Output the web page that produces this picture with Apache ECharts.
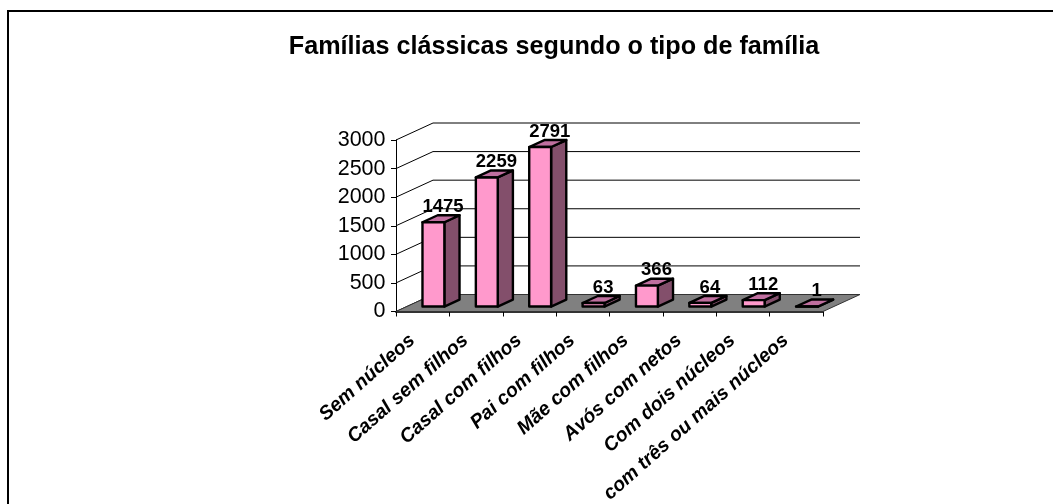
<!DOCTYPE html>
<html>
<head>
<meta charset="utf-8">
<style>
html,body{margin:0;padding:0;background:#fff;}
#chart{width:1053px;height:504px;}
</style>
<script src="https://cdn.jsdelivr.net/npm/echarts@6/dist/echarts.min.js"></script>
</head>
<body>
<div id="chart"></div>
<script>
var categories = ['Sem núcleos','Casal sem filhos','Casal com filhos','Pai com filhos','Mãe com filhos','Avós com netos','Com dois núcleos','com três ou mais núcleos'];
var values = [1475,2259,2791,63,366,64,112,1];
var yTicks = [0,500,1000,1500,2000,2500,3000];
var titleText = 'Famílias clássicas segundo o tipo de família';

// deslocamento da parede do fundo (px)
var depthX = 37, depthY = 17;
var font = '"Liberation Sans", Arial, sans-serif';

var chart = echarts.init(document.getElementById('chart'));

function wallLine(params, api){
    var y = api.coord([0, api.value(0)])[1];
    var x0 = params.coordSys.x, x1 = x0 + params.coordSys.width;
    return {type:'polyline', shape:{points:[[x0,y],[x0+depthX,y-depthY],[x1+depthX,y-depthY]]},
        style:{fill:'none',stroke:'#000',lineWidth:1}};
}

function floor(params, api){
    var y = api.coord([0,0])[1];
    var x0 = params.coordSys.x, x1 = x0 + params.coordSys.width;
    return {type:'polygon', shape:{points:[[x0,y],[x1,y],[x1+depthX,y-depthY],[x0+depthX,y-depthY]]},
        style:{fill:'#808080',stroke:'#333',lineWidth:1}};
}

function bar3d(params, api){
    var i = api.value(0), v = api.value(1);
    var top = api.coord([i,v]), base = api.coord([i,0]);
    var w = api.size([1,0])[0]*0.41;
    // a barra fica a meio da profundidade
    var ox = depthX*0.29, oy = depthY*0.29;
    var dx = depthX*0.41, dy = depthY*0.41;
    var l = top[0]-w/2+ox, r = l+w;
    var t = top[1]-oy, b = base[1]-oy;
    function st(c){return {fill:c,stroke:'#000',lineWidth:2.4,lineJoin:'round'};}
    return {type:'group', children:[
        {type:'polygon', shape:{points:[[r,b],[r+dx,b-dy],[r+dx,t-dy],[r,t]]}, style:st('#834F6B')},
        {type:'polygon', shape:{points:[[l,t],[r,t],[r+dx,t-dy],[l+dx,t-dy]]}, style:st('#BF6F9F')},
        {type:'rect', shape:{x:l,y:t,width:w,height:b-t}, style:st('#FF99CC')},
        {type:'text', style:{text:String(v),x:(l+r+dx)/2+2,y:t-dy+1,align:'center',verticalAlign:'bottom',
            font:'bold 18.5px '+font,fill:'#000'}}
    ]};
}

var option = {
    animation:false,
    backgroundColor:'#fff',
    title:{text:titleText,left:549,top:30,textAlign:'center',
        textStyle:{fontFamily:font,fontSize:25.2,fontWeight:'bold',color:'#000'}},
    grid:{left:396,top:140,width:427,height:171.5,containLabel:false,outerBoundsMode:'none'},
    xAxis:{type:'category',data:categories,
        axisLine:{show:true,lineStyle:{color:'#333',width:2}},
        axisTick:{show:true,length:5,lineStyle:{color:'#000',width:1}},
        axisLabel:{interval:0,rotate:41.5,margin:17,fontFamily:font,fontSize:19.5,fontWeight:'bold',fontStyle:'italic',color:'#000',hideOverlap:false,padding:[0,14,0,0]}
    },
    yAxis:{type:'value',min:0,max:3000,interval:500,
        axisLine:{show:true,lineStyle:{color:'#000',width:1}},
        axisTick:{show:true,length:5,lineStyle:{color:'#000',width:1}},
        axisLabel:{margin:10.5,fontFamily:font,fontSize:21.5,color:'#000',formatter:function(v){return String(v);}},
        splitLine:{show:false}
    },
    graphic:[
        {type:'polyline',silent:true,shape:{points:[[8,504],[8,11],[1053,11]]},style:{fill:'none',stroke:'#000',lineWidth:2}}
    ],
    series:[
        {type:'custom',coordinateSystem:'cartesian2d',renderItem:wallLine,data:yTicks.map(function(t){return [t];}),encode:{y:0},clip:false,silent:true,z:1},
        {type:'custom',coordinateSystem:'cartesian2d',renderItem:floor,data:[[0]],encode:{y:0},clip:false,silent:true,z:2},
        {type:'custom',coordinateSystem:'cartesian2d',renderItem:bar3d,data:values.map(function(v,i){return [i,v];}),encode:{x:0,y:1},clip:false,silent:true,z:3}
    ]
};
chart.setOption(option);
</script>
</body>
</html>
